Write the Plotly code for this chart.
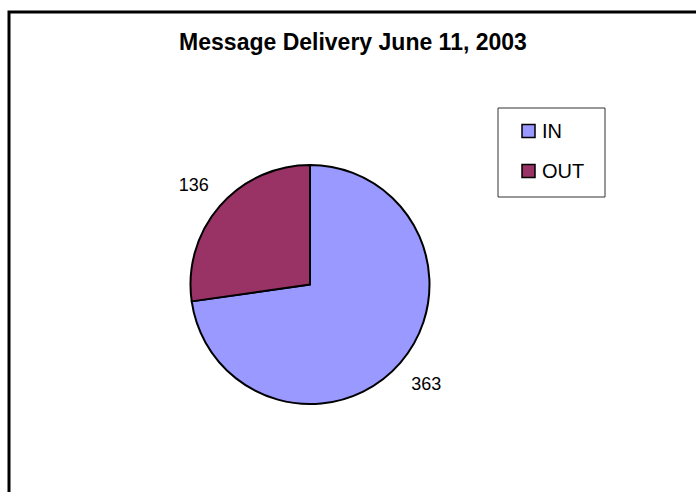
import plotly.graph_objects as go

W, H = 696, 492

# Message counts for the day
labels = ["IN", "OUT"]
values = [363, 136]
colors = ["#9999FF", "#993366"]

title_text = "Message Delivery June 11, 2003"
FONT = "Liberation Sans, Arial, sans-serif"

# pie placement in pixels (centre and radius)
cx, cy, r = 310, 284.5, 119.5

# outside value labels, padded with a blank line so they sit further from the rim
label_fmt = ["&nbsp;<br>%{value}", "%{value}<br>&nbsp;"]

fig = go.Figure(
    go.Pie(
        labels=labels,
        values=values,
        sort=False,
        direction="clockwise",
        rotation=0,
        marker=dict(colors=colors, line=dict(color="black", width=2)),
        texttemplate=label_fmt,
        textposition="outside",
        textfont=dict(family=FONT, size=18, color="black"),
        showlegend=False,
        hoverinfo="label+value",
        domain=dict(
            x=[(cx - r) / W, (cx + r) / W],
            y=[1 - (cy + r) / H, 1 - (cy - r) / H],
        ),
    )
)

shapes = [
    # outer chart frame (right/bottom edges fall outside the page)
    dict(type="rect", xref="paper", yref="paper",
         x0=9 / W, x1=1.05, y0=-0.05, y1=1 - 12 / H,
         line=dict(color="black", width=3), fillcolor="rgba(0,0,0,0)"),
    # legend box
    dict(type="rect", xref="paper", yref="paper",
         x0=498 / W, x1=605 / W, y0=1 - 197 / H, y1=1 - 108 / H,
         line=dict(color="#333333", width=1), fillcolor="white"),
]
annotations = []
leg_y = [131, 171]
for lab, col, yy in zip(labels, colors, leg_y):
    shapes.append(dict(type="rect", xref="paper", yref="paper",
                       x0=522 / W, x1=535 / W,
                       y0=1 - (yy + 6.5) / H, y1=1 - (yy - 6.5) / H,
                       line=dict(color="black", width=1.5), fillcolor=col))
    annotations.append(dict(text=lab, xref="paper", yref="paper",
                            x=540 / W, y=1 - yy / H, xanchor="left", yanchor="middle",
                            showarrow=False,
                            font=dict(family=FONT, size=20, color="black")))

fig.update_layout(
    width=W, height=H,
    margin=dict(l=0, r=0, t=0, b=0),
    paper_bgcolor="white",
    plot_bgcolor="white",
    title=dict(text="<b>" + title_text + "</b>", x=353 / W, xanchor="center",
               y=1 - 42 / H, yanchor="middle", yref="container",
               font=dict(family=FONT, size=23, color="black")),
    shapes=shapes,
    annotations=annotations,
)

fig.write_html("out.html")
